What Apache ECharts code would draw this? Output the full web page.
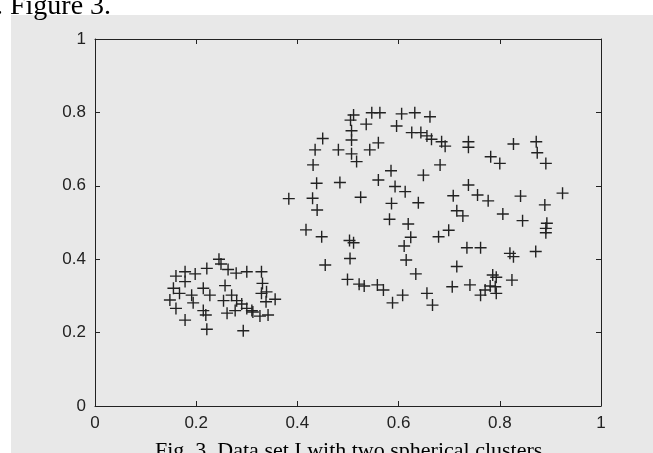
<!DOCTYPE html>
<html>
<head>
<meta charset="utf-8">
<script src="https://cdn.jsdelivr.net/npm/echarts@6/dist/echarts.min.js"></script>
<style>
  body { margin: 0; background: #fff; }
  #bg { position: absolute; left: 11px; top: 15px; width: 642px; height: 438px; background: #e8e8e8; }
  #main { position: absolute; left: 0; top: 0; width: 653px; height: 453px; }
</style>
</head>
<body>
<div id="bg"></div>
<div id="main"></div>
<script>
// left (small) cluster
const smallX = [0.245, 0.249, 0.263, 0.279, 0.221, 0.198, 0.178, 0.160, 0.178, 0.300,
  0.329, 0.331, 0.257, 0.155, 0.167, 0.214, 0.227, 0.191, 0.194, 0.148,
  0.254, 0.270, 0.280, 0.290, 0.300, 0.310, 0.329, 0.339, 0.338, 0.356,
  0.160, 0.214, 0.219, 0.261, 0.277, 0.326, 0.342, 0.178, 0.221, 0.293, 0.312];
const smallY = [0.400, 0.387, 0.372, 0.362, 0.375, 0.360, 0.366, 0.354, 0.339, 0.366,
  0.366, 0.334, 0.328, 0.321, 0.307, 0.321, 0.302, 0.302, 0.281, 0.289,
  0.287, 0.302, 0.287, 0.278, 0.266, 0.260, 0.307, 0.311, 0.284, 0.291,
  0.266, 0.260, 0.248, 0.253, 0.260, 0.245, 0.248, 0.234, 0.209, 0.205, 0.256];

// right (big) cluster
const bigX = [0.511, 0.505, 0.507, 0.507, 0.507, 0.517, 0.536, 0.547, 0.563, 0.606,
  0.632, 0.662, 0.596, 0.626, 0.644, 0.656, 0.665, 0.685, 0.692, 0.450,
  0.435, 0.481, 0.543, 0.560, 0.431, 0.585, 0.682, 0.649, 0.438, 0.484,
  0.560, 0.593, 0.613, 0.738, 0.738, 0.827, 0.872, 0.874, 0.891, 0.782,
  0.800, 0.738, 0.708, 0.756, 0.841, 0.924, 0.777, 0.889, 0.715, 0.727,
  0.806, 0.845, 0.893, 0.891, 0.891, 0.699, 0.735, 0.762, 0.820, 0.827,
  0.871, 0.715, 0.706, 0.741, 0.762, 0.786, 0.793, 0.781, 0.791, 0.793,
  0.771, 0.824, 0.430, 0.439, 0.525, 0.586, 0.639, 0.582, 0.619, 0.624,
  0.611, 0.679, 0.417, 0.448, 0.503, 0.511, 0.504, 0.455, 0.615, 0.634,
  0.499, 0.522, 0.532, 0.558, 0.570, 0.608, 0.588, 0.656, 0.667, 0.383];
const bigY = [0.793, 0.779, 0.750, 0.725, 0.687, 0.666, 0.768, 0.799, 0.799, 0.796,
  0.799, 0.788, 0.763, 0.745, 0.745, 0.736, 0.727, 0.720, 0.708, 0.729,
  0.698, 0.698, 0.698, 0.717, 0.657, 0.641, 0.657, 0.629, 0.607, 0.609,
  0.616, 0.598, 0.584, 0.720, 0.705, 0.714, 0.720, 0.690, 0.661, 0.679,
  0.661, 0.602, 0.573, 0.575, 0.572, 0.580, 0.559, 0.548, 0.532, 0.518,
  0.523, 0.505, 0.498, 0.484, 0.472, 0.479, 0.431, 0.431, 0.416, 0.407,
  0.421, 0.380, 0.325, 0.330, 0.302, 0.357, 0.351, 0.327, 0.325, 0.307,
  0.316, 0.343, 0.566, 0.534, 0.569, 0.552, 0.554, 0.509, 0.496, 0.460,
  0.436, 0.461, 0.480, 0.461, 0.451, 0.445, 0.402, 0.384, 0.398, 0.360,
  0.345, 0.332, 0.327, 0.330, 0.316, 0.302, 0.281, 0.307, 0.275, 0.565];

const ticks = [0, 0.2, 0.4, 0.6, 0.8, 1];

const points = smallX.map((x, i) => [x, smallY[i]])
  .concat(bigX.map((x, i) => [x, bigY[i]]));

const ink = '#222';

function axis(pos, showLabel) {
  return {
    type: 'value',
    position: pos,
    min: ticks[0],
    max: ticks[ticks.length - 1],
    interval: 0.2,
    splitLine: { show: false },
    axisLine: { show: true, onZero: false, lineStyle: { color: ink, width: 1 } },
    axisTick: { show: true, inside: true, length: 5, lineStyle: { color: ink } },
    axisLabel: {
      show: showLabel,
      color: ink,
      fontSize: 17,
      fontFamily: '"Liberation Sans", Arial, sans-serif',
      margin: 9
    }
  };
}

const chart = echarts.init(document.getElementById('main'));
chart.setOption({
  animation: false,
  grid: { left: 95, right: 52, top: 39, bottom: 47 },
  xAxis: [axis('bottom', true), axis('top', false)],
  yAxis: [axis('left', true), axis('right', false)],
  graphic: [
    {
      type: 'text', left: -4, top: -7,
      style: { text: '. Figure 3.', font: '28px "Liberation Serif", serif', fill: '#000' }
    },
    {
      type: 'text', left: 155, top: 440,
      style: { text: 'Fig. 3. Data set I with two spherical clusters', font: '22px "Liberation Serif", serif', fill: '#000' }
    }
  ],
  series: [{
    type: 'scatter',
    silent: true,
    data: points,
    symbol: 'path://M0,5L10,5M5,0L5,10',
    symbolSize: 12,
    itemStyle: { color: 'transparent', borderColor: ink, borderWidth: 1.4, opacity: 1 }
  }]
});
</script>
</body>
</html>
